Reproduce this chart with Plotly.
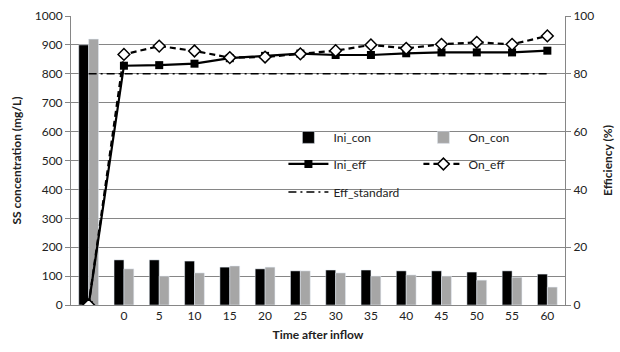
import plotly.graph_objects as go

# Sampling times (first slot is the inflow itself, left unlabeled)
tick_labels = ["", "0", "5", "10", "15", "20", "25", "30", "35", "40", "45", "50", "55", "60"]
x_pos = list(range(len(tick_labels)))

# SS concentration (mg/L)
ini_con = [900, 156, 156, 152, 131, 125, 118, 121, 121, 118, 118, 114, 118, 107]
on_con = [920, 125, 100, 111, 135, 131, 118, 111, 100, 104, 100, 86, 96, 62]

# Removal efficiency (%)
ini_eff = [0, 82.8, 83.0, 83.5, 85.4, 86.2, 87.0, 86.5, 86.5, 87.1, 87.4, 87.4, 87.4, 88.0]
on_eff = [0, 86.7, 89.6, 87.9, 85.6, 85.8, 86.9, 88.0, 90.0, 88.8, 90.2, 90.9, 90.2, 93.1]
eff_standard = [80] * len(tick_labels)

FONT = "Lato, 'Open Sans', sans-serif"
AXIS_GRAY = "#868686"

fig = go.Figure()

fig.add_trace(go.Bar(x=x_pos, y=ini_con, name="Ini_con", marker_color="#000000",
                     legend="legend", yaxis="y"))
fig.add_trace(go.Bar(x=x_pos, y=on_con, name="On_con", marker_color="#a6a6a6",
                     legend="legend", yaxis="y"))

fig.add_trace(go.Scatter(x=x_pos, y=ini_eff, name="Ini_eff", yaxis="y2", mode="lines+markers",
                         line=dict(color="#000000", width=2.2),
                         marker=dict(symbol="square", size=8, color="#000000"),
                         legend="legend2"))
fig.add_trace(go.Scatter(x=x_pos, y=on_eff, name="On_eff", yaxis="y2", mode="lines+markers",
                         line=dict(color="#000000", width=2.2, dash="6px,4px"),
                         marker=dict(symbol="diamond", size=9, color="#ffffff",
                                     line=dict(color="#000000", width=1.5)),
                         legend="legend2"))
fig.add_trace(go.Scatter(x=x_pos, y=eff_standard, name="Eff_standard", yaxis="y2", mode="lines",
                         line=dict(color="#000000", width=1.6, dash="8px,4px,2px,4px"),
                         legend="legend3"))

legend_common = dict(orientation="h", xanchor="left", yanchor="middle",
                     bgcolor="rgba(0,0,0,0)", entrywidthmode="pixels",
                     font=dict(family=FONT, size=12, color="#222222"),
                     itemwidth=40, traceorder="normal")

fig.update_layout(
    width=620, height=352,
    margin=dict(l=71, r=55, t=16, b=47, autoexpand=False),
    paper_bgcolor="#ffffff", plot_bgcolor="#ffffff",
    font=dict(family=FONT, size=12, color="#222222"),
    barmode="group", bargap=0.44, bargroupgap=0,
    xaxis=dict(range=[-0.5, len(tick_labels) - 0.5], tickmode="array",
               tickvals=x_pos, ticktext=tick_labels, showgrid=False,
               showline=True, linecolor=AXIS_GRAY, linewidth=1, ticks="",
               title=dict(text="<b>Time after inflow</b>", standoff=8,
                          font=dict(family=FONT, size=12)),
               tickfont=dict(family=FONT, size=12), zeroline=False),
    yaxis=dict(range=[0, 1000], dtick=100, showgrid=True, gridcolor=AXIS_GRAY, gridwidth=1,
               showline=True, linecolor=AXIS_GRAY, ticks="outside", ticklen=5,
               tickcolor=AXIS_GRAY, zeroline=False,
               title=dict(text="<b>SS concentration (mg/L)</b>", standoff=10,
                          font=dict(family=FONT, size=12)),
               tickfont=dict(family=FONT, size=12)),
    yaxis2=dict(range=[0, 100], dtick=20, overlaying="y", side="right", showgrid=False,
                showline=True, linecolor=AXIS_GRAY, ticks="outside", ticklen=5,
                tickcolor=AXIS_GRAY, zeroline=False,
                title=dict(text="<b>Efficiency (%)</b>", standoff=10,
                           font=dict(family=FONT, size=12)),
                tickfont=dict(family=FONT, size=12)),
    legend=dict(x=0.43, y=0.58, entrywidth=80, **legend_common),
    legend2=dict(x=0.43, y=0.488, entrywidth=80, **legend_common),
    legend3=dict(x=0.43, y=0.391, entrywidth=120, **legend_common),
)

fig.write_html("out.html")
